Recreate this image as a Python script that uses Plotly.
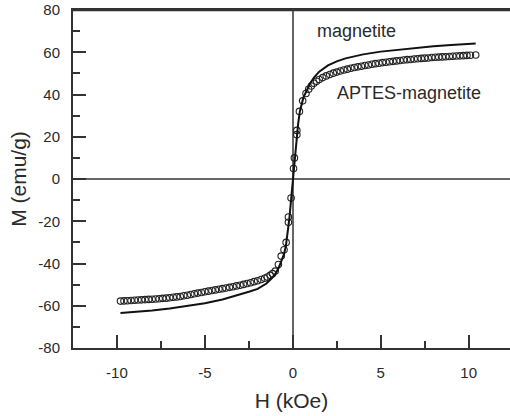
import plotly.graph_objects as go

# magnetite (solid line)
mag_H = [-9.8, -9.0, -8.0, -7.0, -6.0, -5.0, -4.0, -3.0, -2.5, -2.0, -1.5, -1.2, -1.0, -0.8,
         -0.6, -0.5, -0.4, -0.3, -0.2, -0.1, 0.0, 0.1, 0.2, 0.3, 0.4, 0.5, 0.6, 0.8, 1.0,
         1.2, 1.5, 2.0, 2.5, 3.0, 4.0, 5.0, 6.0, 7.0, 8.0, 9.0, 10.4]
mag_M = [-63.4, -62.9, -62.2, -61.3, -60.2, -58.8, -57.0, -54.8, -53.4, -52.0, -49.5, -47.0,
         -45.0, -42.0, -38.0, -35.5, -32.0, -26.0, -19.0, -10.0, 0.0, 10.0, 19.0, 26.0, 32.0,
         36.0, 38.5, 42.0, 45.5, 48.0, 50.8, 53.8, 55.7, 57.1, 59.0, 60.3, 61.2, 62.0, 62.8,
         63.4, 64.2]

# APTES-magnetite (open circles)
aptes_H = [-9.8, -9.6, -9.4, -9.2, -9.0, -8.8, -8.6, -8.4, -8.2, -8.0, -7.8, -7.6, -7.4, -7.2,
           -7.0, -6.8, -6.6, -6.4, -6.2, -6.0, -5.8, -5.6, -5.4, -5.2, -5.0, -4.8, -4.6, -4.4,
           -4.2, -4.0, -3.8, -3.6, -3.4, -3.2, -3.0, -2.8, -2.6, -2.4, -2.2, -2.0, -1.8, -1.6,
           -1.45, -1.29, -1.15, -1.0, -0.82, -0.66, -0.5, -0.38, -0.25, -0.25, -0.1,
           0.04, 0.09, 0.23, 0.23, 0.375, 0.56, 0.75, 0.9, 1.05, 1.2, 1.35, 1.5, 1.7, 1.9,
           2.1, 2.3, 2.5, 2.7, 2.9, 3.1, 3.3, 3.5, 3.7, 3.9, 4.1, 4.3, 4.5, 4.7, 4.9, 5.1,
           5.3, 5.5, 5.7, 5.9, 6.1, 6.3, 6.5, 6.7, 6.9, 7.1, 7.3, 7.5, 7.7, 7.9, 8.1, 8.3,
           8.5, 8.7, 8.9, 9.1, 9.3, 9.5, 9.7, 9.9, 10.1, 10.4]
aptes_M = [-57.8, -57.7, -57.6, -57.5, -57.4, -57.3, -57.2, -57.1, -57.0, -56.9, -56.8, -56.7,
           -56.5, -56.4, -56.2, -56.0, -55.8, -55.6, -55.3, -55.0, -54.7, -54.3, -54.0, -53.7,
           -53.4, -53.1, -52.8, -52.5, -52.2, -51.9, -51.6, -51.3, -51.0, -50.6, -50.3, -49.9,
           -49.5, -49.1, -48.6, -48.2, -47.6, -47.0, -46.4, -45.6, -44.8, -43.6, -40.5, -36.5,
           -33.5, -30.0, -18.0, -20.5, -9.0,
           5.0, 10.0, 21.0, 23.0, 32.0, 37.0, 40.5, 42.5, 44.0, 45.3, 46.3, 47.1, 48.0, 48.8,
           49.5, 50.1, 50.6, 51.1, 51.6, 52.0, 52.4, 52.8, 53.1, 53.4, 53.7, 54.0, 54.3, 54.6,
           54.8, 55.1, 55.3, 55.5, 55.7, 55.9, 56.1, 56.3, 56.5, 56.6, 56.8, 56.9, 57.1, 57.2,
           57.3, 57.5, 57.6, 57.7, 57.8, 57.9, 58.0, 58.1, 58.2, 58.3, 58.4, 58.5, 58.6, 58.7]

# tick labels (hyphen minus as in the reference)
x_tickvals = [-10, -5, 0, 5, 10]
x_ticktext = ["-10", "-5", "0", "5", "10"]
y_tickvals = [-80, -60, -40, -20, 0, 20, 40, 60, 80]
y_ticktext = ["-80", "-60", "-40", "-20", "0", "20", "40", "60", "80"]

FONT = "Liberation Sans, Arial, sans-serif"
AX = "#333333"
TXT = "#2a2a2a"

fig = go.Figure()
fig.add_trace(go.Scatter(x=aptes_H, y=aptes_M, mode="markers",
                         marker=dict(symbol="circle-open", size=6.5, color="#222222",
                                     line=dict(width=1.1, color="#222222")),
                         showlegend=False))
fig.add_trace(go.Scatter(x=mag_H, y=mag_M, mode="lines",
                         line=dict(color="#111111", width=2), showlegend=False))

fig.add_annotation(x=1.27, y=70, text="magnetite", showarrow=False, xanchor="left",
                   yanchor="middle", font=dict(family=FONT, size=18, color=TXT))
fig.add_annotation(x=2.4, y=40.5, text="APTES-magnetite", showarrow=False, xanchor="left",
                   yanchor="middle", font=dict(family=FONT, size=18, color=TXT))

# top frame line
fig.add_shape(type="line", xref="paper", yref="paper", x0=0, x1=1, y0=1, y1=1,
              line=dict(color="#333333", width=2.5), layer="above")

fig.update_layout(
    width=510, height=416,
    margin=dict(l=73, r=0, t=10, b=68),
    paper_bgcolor="white", plot_bgcolor="white",
    font=dict(family=FONT, size=15, color=TXT),
)
fig.update_xaxes(range=[-12.5, 12.35], tickmode="array", tickvals=x_tickvals, ticktext=x_ticktext,
                 ticks="inside", ticklen=13, tickwidth=1.5, tickcolor=AX,
                 minor=dict(ticks="inside", ticklen=7, tickwidth=1.5, tickcolor=AX,
                            tickmode="linear", dtick=2.5, tick0=0),
                 showline=True, linecolor=AX, linewidth=2, mirror=True, automargin=False,
                 showgrid=False, zeroline=True, zerolinecolor="#666666", zerolinewidth=1.5,
                 ticklabelstandoff=10,
                 title=dict(text="H (kOe)", font=dict(family=FONT, size=21), standoff=13))
fig.update_yaxes(range=[-80, 80], tickmode="array", tickvals=y_tickvals, ticktext=y_ticktext,
                 ticks="inside", ticklen=13, tickwidth=1.5, tickcolor=AX,
                 minor=dict(ticks="inside", ticklen=7, tickwidth=1.5, tickcolor=AX,
                            tickmode="linear", dtick=10, tick0=0),
                 showline=True, linecolor=AX, linewidth=2, mirror=False, automargin=False,
                 showgrid=False, zeroline=True, zerolinecolor="#666666", zerolinewidth=1.5,
                 ticklabelstandoff=8,
                 title=dict(text="M (emu/g)", font=dict(family=FONT, size=21), standoff=6))

fig.write_html("out.html", config={"displayModeBar": False},
               post_script="document.body.style.margin='0';document.body.style.overflow='hidden';")
